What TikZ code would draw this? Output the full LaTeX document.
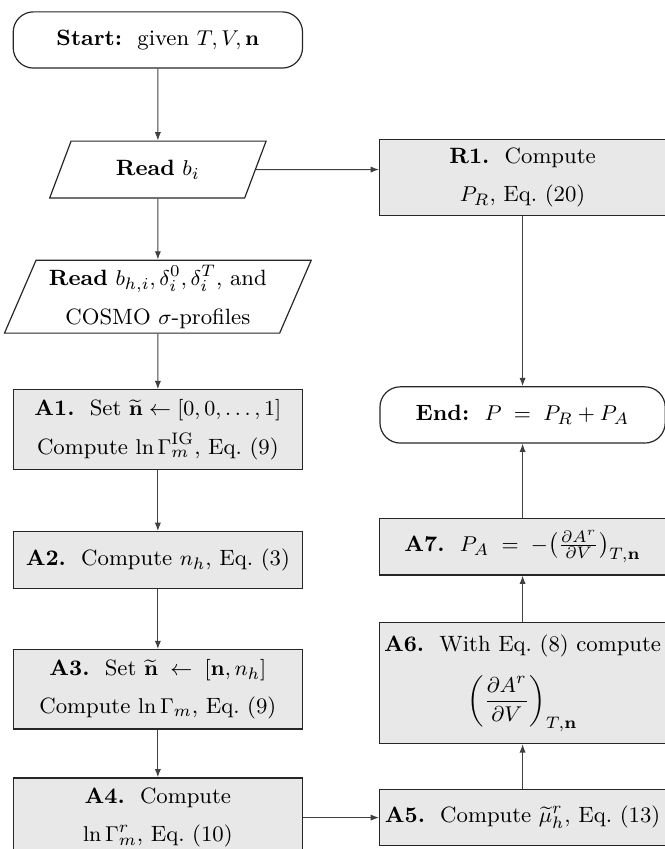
\documentclass[tikz,border=0pt]{standalone}
\usepackage{amsmath}
\usepackage{tikz}
\usetikzlibrary{arrows.meta, positioning, shapes.geometric}

\begin{document}
\begin{tikzpicture}[
  font=\fontsize{9.3}{11.2}\selectfont,
  block/.style={draw=black!85, line width=0.5pt, align=center, inner sep=2pt},
  term/.style={block, rounded corners=3mm, minimum height=8.3mm},
  io/.style={block, trapezium, trapezium left angle=68, trapezium right angle=112, trapezium stretches=true},
  stepL/.style={block, fill=gray!18, minimum width=42.7mm},
  stepR/.style={block, fill=gray!18, minimum width=42.2mm},
  line/.style={-{Latex[length=3.5pt,width=2.6pt]}, draw=black!75, line width=0.45pt}
]
\useasboundingbox (0,0) rectangle (98mm,-125.3mm);

% Left column: input and the A-steps
\node[term, minimum width=42.7mm] (start) at (23.3mm,-5.9mm) {\textbf{Start:}\ \ given $T, V, \mathbf{n}$};
\node[io, minimum width=32mm, minimum height=8.4mm, below=10.6mm of start] (readb) {\textbf{Read} $b_i$};
\node[io, minimum width=45.3mm, minimum height=9.8mm, below=9mm of readb] (readbh) {\textbf{Read} $b_{h,i}, \delta_i^0, \delta_i^T$, and\\[5pt] COSMO $\sigma$-profiles};
\node[stepL, minimum height=11.7mm, below=8.2mm of readbh] (A1) {\textbf{A1.}\ \ Set $\widetilde{\mathbf{n}} \leftarrow [0,0,\ldots,1]$\\[5pt] Compute $\ln\Gamma_m^{\mathrm{IG}}$, Eq.~(9)};
\node[stepL, minimum height=8.4mm, below=9.05mm of A1] (A2) {\textbf{A2.}\ \ Compute $n_h$, Eq.~(3)};
\node[stepL, minimum height=11.7mm, below=8.85mm of A2] (A3) {\textbf{A3.}\ \ Set $\widetilde{\mathbf{n}} \;\leftarrow\; [\mathbf{n}, n_h]$\\[5pt] Compute $\ln\Gamma_m$, Eq.~(9)};
\node[stepL, minimum height=11.7mm, below=7.05mm of A3] (A4) {\textbf{A4.}\ \ Compute\\[5pt] $\ln\Gamma_m^r$, Eq.~(10)};

% Right column: from A5 up to the end
\node[stepR, minimum height=8.3mm, right=11.2mm of A4] (A5) {\textbf{A5.}\ \ Compute $\widetilde{\mu}_h^r$, Eq.~(13)};
\node[stepR, minimum height=17.9mm, above=6.6mm of A5] (A6) {\textbf{A6.}\ \ With Eq.~(8) compute\\[7pt] $\displaystyle\left(\frac{\partial A^r}{\partial V}\right)_{T,\mathbf{n}}$};
\node[stepR, minimum height=8.4mm, above=6.8mm of A6] (A7) {\textbf{A7.}\ \ $P_A \;=\; -\bigl(\frac{\partial A^r}{\partial V}\bigr)_{T,\mathbf{n}}$};
\node[term, minimum width=42.1mm, above=10.9mm of A7] (end) {\textbf{End:}\ \ $P \;=\; P_R + P_A$};
\node[stepR, minimum height=11.2mm, above=25.1mm of end] (R1) {\textbf{R1.}\ \ Compute\\[5pt] $P_R$, Eq.~(20)};

% Connections
\draw[line] (start) -- (readb);
\draw[line] (readb) -- (readbh);
\draw[line] (readbh) -- (A1);
\draw[line] (A1) -- (A2);
\draw[line] (A2) -- (A3);
\draw[line] (A3) -- (A4);
\draw[line] (readb) -- (readb -| R1.west);
\draw[line] (R1) -- (end);
\draw[line] (A4) -- (A5);
\draw[line] (A5) -- (A6);
\draw[line] (A6) -- (A7);
\draw[line] (A7) -- (end);

\end{tikzpicture}
\end{document}
